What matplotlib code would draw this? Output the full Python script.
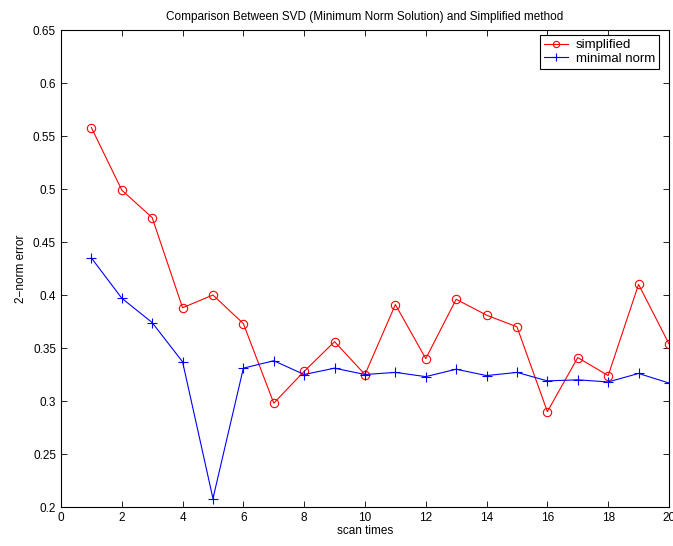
import matplotlib
matplotlib.use("Agg")
import matplotlib.pyplot as plt

plt.rcParams["font.family"] = ["Liberation Sans", "DejaVu Sans"]

# Scan index
scans = list(range(1, 21))

# 2-norm error, simplified method
simplified = [0.558, 0.499, 0.473, 0.388, 0.400, 0.373, 0.298, 0.328, 0.356, 0.325,
              0.391, 0.340, 0.396, 0.381, 0.370, 0.290, 0.341, 0.324, 0.410, 0.354]

# 2-norm error, SVD minimum norm solution
minimal_norm = [0.435, 0.397, 0.374, 0.337, 0.208, 0.331, 0.338, 0.325, 0.331, 0.325,
                0.327, 0.323, 0.330, 0.324, 0.327, 0.319, 0.320, 0.318, 0.326, 0.317]

fig = plt.figure(figsize=(6.73, 5.46), dpi=100)
ax = fig.add_axes([0.0906, 0.0714, 0.9034, 0.8736])

ax.plot(scans, simplified, "-o", color="red", lw=0.8, ms=6, mfc="none", mew=0.8,
        label="simplified")
ax.plot(scans, minimal_norm, "-+", color="blue", lw=0.8, ms=7, mew=0.8,
        label="minimal norm")

ax.set_xlim(0, 20)
ax.set_ylim(0.2, 0.65)
ax.set_xticks(range(0, 21, 2))
ax.set_yticks([0.2 + 0.05 * i for i in range(10)])
ax.set_yticklabels(["0.2", "0.25", "0.3", "0.35", "0.4", "0.45", "0.5", "0.55", "0.6", "0.65"])
ax.tick_params(direction="in", top=True, right=True, labelsize=8.5, length=4, width=0.6)
for s in ax.spines.values():
    s.set_linewidth(0.8)

ax.set_xlabel("scan times", fontsize=8.5, labelpad=1)
ax.set_ylabel("2\u2212norm error", fontsize=8.5, labelpad=4)
ax.set_title("Comparison Between SVD (Minimum Norm Solution) and Simplified method",
             fontsize=8.5, pad=7)

# Legend box sits a bit inside the top-right corner
leg = ax.legend(loc="upper right", bbox_to_anchor=(659 / 673, 1 - 35 / 546),
                bbox_transform=fig.transFigure, borderaxespad=0,
                fontsize=9.5, fancybox=False, framealpha=1, edgecolor="black",
                handlelength=1.8, handletextpad=0.6, borderpad=0.3,
                labelspacing=0.1, markerscale=0.75)
leg.get_frame().set_linewidth(0.8)

fig.savefig("out.png", dpi=100)
